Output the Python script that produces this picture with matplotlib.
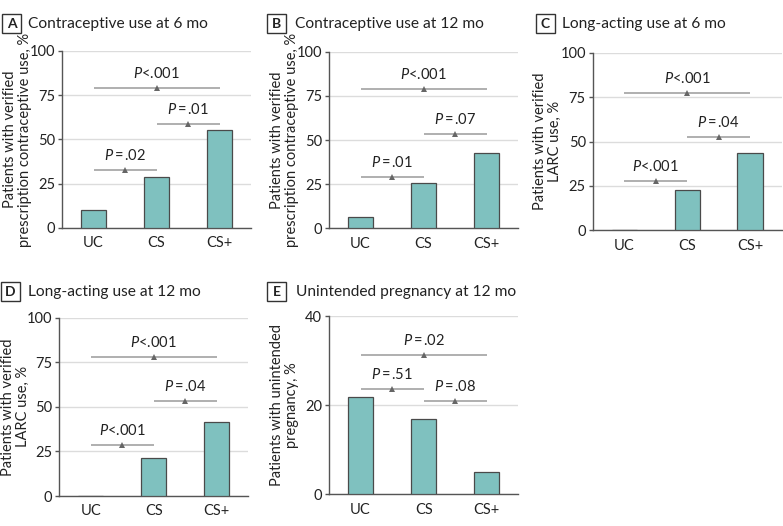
import matplotlib
matplotlib.use("Agg")
import matplotlib.pyplot as plt
from matplotlib.patches import Rectangle

plt.rcParams['font.family'] = ['Lato', 'DejaVu Sans']
plt.rcParams['mathtext.fontset'] = 'custom'
plt.rcParams['mathtext.it'] = 'Lato:italic'
plt.rcParams['mathtext.rm'] = 'Lato'

categories = ["UC", "CS", "CS+"]

panel_letters = ["A", "B", "C", "D", "E"]
panel_titles = ["Contraceptive use at 6 mo", "Contraceptive use at 12 mo",
                "Long-acting use at 6 mo", "Long-acting use at 12 mo",
                "Unintended pregnancy at 12 mo"]
ylabels = ["Patients with verified\nprescription contraceptive use, %",
           "Patients with verified\nprescription contraceptive use, %",
           "Patients with verified\nLARC use, %",
           "Patients with verified\nLARC use, %",
           "Patients with unintended\npregnancy, %"]

values_A = [10, 28.8, 55.5]
values_B = [6.2, 25.5, 42.6]
values_C = [0, 22.5, 43.4]
values_D = [0, 21.3, 41.3]
values_E = [21.9, 16.8, 4.9]

TS = "\u2009"
# brackets: (start index, end index, y, label)
brackets_A = [(0, 2, 79, "$P$<.001"), (1, 2, 59, f"$P${TS}={TS}.01"), (0, 1, 32.6, f"$P${TS}={TS}.02")]
brackets_B = [(0, 2, 78.9, "$P$<.001"), (1, 2, 53.4, f"$P${TS}={TS}.07"), (0, 1, 28.9, f"$P${TS}={TS}.01")]
brackets_C = [(0, 2, 77.5, "$P$<.001"), (1, 2, 52.7, f"$P${TS}={TS}.04"), (0, 1, 27.6, "$P$<.001")]
brackets_D = [(0, 2, 77.9, "$P$<.001"), (1, 2, 53.3, f"$P${TS}={TS}.04"), (0, 1, 28.4, "$P$<.001")]
brackets_E = [(0, 2, 31.2, f"$P${TS}={TS}.02"), (1, 2, 21.0, f"$P${TS}={TS}.08"), (0, 1, 23.6, f"$P${TS}={TS}.51")]

yticks_pct = [0, 25, 50, 75, 100]
yticks_E = [0, 20, 40]

all_values = [values_A, values_B, values_C, values_D, values_E]
all_brackets = [brackets_A, brackets_B, brackets_C, brackets_D, brackets_E]
all_yticks = [yticks_pct] * 4 + [yticks_E]

W, H = 783, 526
fig = plt.figure(figsize=(W / 100, H / 100), dpi=100)

# axes rectangles in pixels: left, top(y of max), right, bottom(y of zero)
ax_px = [(62, 51, 251, 228),
         (329, 51.7, 518, 228.3),
         (592.7, 52.7, 781.5, 230.3),
         (59.3, 317.7, 248.3, 496),
         (329, 316, 518.3, 494.3)]
# x pixel of right edge of y label
ylab_right = [32, 299, 562, 30, 299]
# letter box (x0, y0 top) and title x
box_px = [(2, 14, 27.7), (267, 14, 295), (536, 14, 562), (1, 282, 27.7), (267, 282, 295.7)]

bar_color = "#7fc1bf"
edge_color = "#4a4a4a"
dark = "#555555"
bracket_color = "#9a9a9a"

for i in range(5):
    l, t, r, b = ax_px[i]
    ax = fig.add_axes([l / W, 1 - b / H, (r - l) / W, (b - t) / H])
    vals = all_values[i]
    ymax = all_yticks[i][-1]
    ax.bar(range(3), vals, width=0.4, color=bar_color, edgecolor=edge_color,
           linewidth=0.9, zorder=3)
    ax.set_xlim(-0.5, 2.5)
    ax.set_ylim(0, ymax)
    ax.set_yticks(all_yticks[i])
    ax.set_xticks(range(3))
    ax.set_xticklabels(categories)
    ax.yaxis.grid(True, color="#dcdcdc", linewidth=1.0, zorder=0)
    ax.set_axisbelow(True)
    for s in ["top", "right"]:
        ax.spines[s].set_visible(False)
    for s in ["left", "bottom"]:
        ax.spines[s].set_color(dark)
        ax.spines[s].set_linewidth(1.0)
    ax.tick_params(axis="y", length=3, width=1, color=dark, labelsize=10.5,
                   pad=2, labelcolor="#222222")
    ax.tick_params(axis="x", length=0, labelsize=10.5, pad=6, labelcolor="#222222")
    ax.set_ylabel(ylabels[i], fontsize=10.5, color="#222222", linespacing=1.1)
    ax.yaxis.set_label_coords(-(l - ylab_right[i]) / (r - l), 0.5)
    for (s, e, yv, lab) in all_brackets[i]:
        ax.plot([s, e], [yv, yv], color=bracket_color, linewidth=1.1,
                solid_capstyle="butt", zorder=2)
        mid = (s + e) / 2
        ax.plot([mid], [yv], marker="^", markersize=5, color="#666666",
                markeredgewidth=0, linestyle="none", zorder=4)
        ax.annotate(lab, xy=(mid, yv), xytext=(0, 5), textcoords="offset points",
                    ha="center", va="bottom", fontsize=10.5, color="#222222")

    bx, by, tx = box_px[i]
    bw, bh = 19, 19
    fig.patches.append(Rectangle((bx / W, 1 - (by + bh) / H), bw / W, bh / H,
                                 transform=fig.transFigure, facecolor="white",
                                 edgecolor="#333333", linewidth=1.0))
    fig.text((bx + bw / 2) / W, 1 - (by + bh / 2) / H, panel_letters[i],
             ha="center", va="center", fontsize=10, fontweight="bold",
             color="#222222")
    fig.text(tx / W, 1 - (by + bh / 2 + 0.5) / H, panel_titles[i],
             ha="left", va="center", fontsize=11.2, color="#222222")

fig.savefig("out.png", dpi=100)
